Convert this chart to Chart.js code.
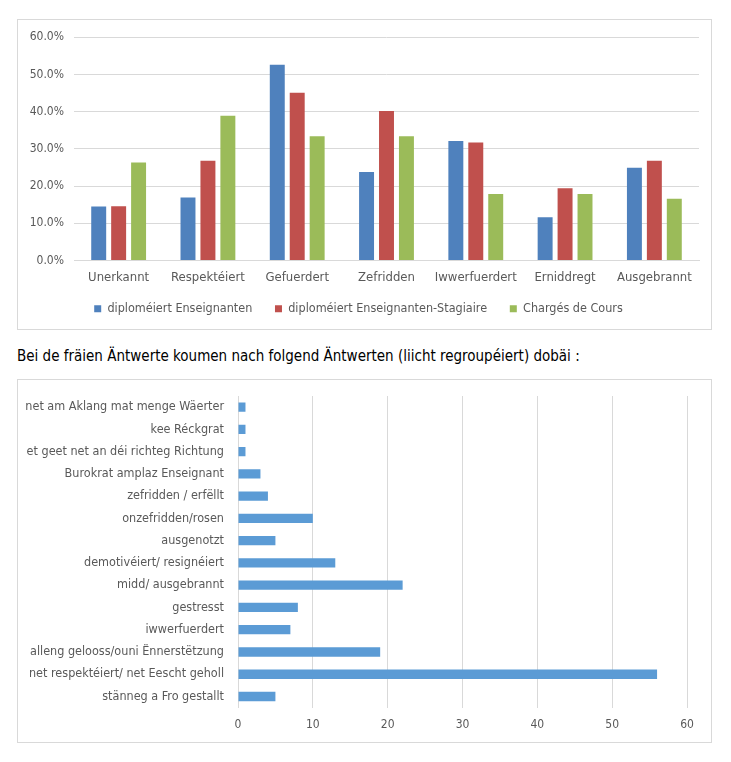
<!DOCTYPE html>
<html>
<head>
<meta charset="utf-8">
<script src="https://cdn.jsdelivr.net/npm/chart.js@4"></script>
<style>
  body { margin: 0; background: #fff; }
  .box { position: absolute; border: 1px solid #d9d9d9; background: #fff; }
  #topBox { left: 17px; top: 19px; width: 693px; height: 309px; }
  #botBox { left: 17px; top: 379px; width: 693px; height: 362px; }
  #caption { position: absolute; left: 17px; top: 347px; font: 15px "DejaVu Sans Condensed", Roboto, sans-serif; color: #000; white-space: nowrap; }
</style>
</head>
<body>
<div class="box" id="topBox"><canvas id="topChart" width="693" height="309"></canvas></div>
<div id="caption">Bei de fräien Äntwerte koumen nach folgend Äntwerten (liicht regroupéiert) dobäi :</div>
<div class="box" id="botBox"><canvas id="botChart" width="693" height="362"></canvas></div>
<script>
// top chart data (share, 0..1)
let groups = ['Unerkannt', 'Respektéiert', 'Gefuerdert', 'Zefridden', 'Iwwerfuerdert', 'Erniddregt', 'Ausgebrannt'];
let enseignanten = [0.145, 0.169, 0.526, 0.238, 0.321, 0.116, 0.249];
let stagiaires = [0.146, 0.268, 0.451, 0.402, 0.317, 0.194, 0.268];
let chargesCours = [0.263, 0.389, 0.334, 0.334, 0.179, 0.179, 0.166];
let seriesNames = ['diploméiert Enseignanten', 'diploméiert Enseignanten-Stagiaire', 'Chargés de Cours'];

// bottom chart data (counts)
let answers = ['net am Aklang mat menge Wäerter', 'kee Réckgrat', 'et geet net an déi richteg Richtung',
  'Burokrat amplaz Enseignant', 'zefridden / erfëllt', 'onzefridden/rosen', 'ausgenotzt',
  'demotivéiert/ resignéiert', 'midd/ ausgebrannt', 'gestresst', 'iwwerfuerdert',
  'alleng gelooss/ouni Ënnerstëtzung', 'net respektéiert/ net Eescht geholl', 'stänneg a Fro gestallt'];
let answerCounts = [1, 1, 1, 3, 4, 10, 5, 13, 22, 8, 7, 19, 56, 5];

const fontFam = '"DejaVu Sans Condensed", Roboto, sans-serif';
const grey = '#595959';
const gridCol = '#d9d9d9';

Chart.defaults.font.family = fontFam;
Chart.defaults.color = grey;

var topChart = new Chart(document.getElementById('topChart'), {
  type: 'bar',
  data: {
    labels: groups,
    datasets: [
      { label: seriesNames[0], data: enseignanten, backgroundColor: '#4F81BD' },
      { label: seriesNames[1], data: stagiaires, backgroundColor: '#C0504D' },
      { label: seriesNames[2], data: chargesCours, backgroundColor: '#9BBB59' }
    ]
  },
  options: {
    responsive: false,
    animation: false,
    layout: { padding: { left: 0, right: 12, top: 12, bottom: 4 } },
    datasets: { bar: { categoryPercentage: 0.67, barPercentage: 0.75 } },
    plugins: {
      legend: {
        position: 'bottom',
        labels: {
          boxWidth: 7, boxHeight: 7, font: { size: 12.5 }, color: grey, padding: 12,
          // wider gap between items than between rows
          generateLabels: function(chart) {
            let items = Chart.defaults.plugins.legend.labels.generateLabels(chart);
            items.forEach(function(it, i) { if (i < items.length - 1) it.text += '   '; });
            return items;
          }
        }
      },
      tooltip: { enabled: false }
    },
    scales: {
      x: {
        afterFit: function(axis) { axis.height = 30; },
        grid: { display: false },
        border: { display: true, color: gridCol },
        ticks: { font: { size: 13 }, color: grey, padding: 1, maxRotation: 0, autoSkip: false }
      },
      y: {
        min: 0, max: 0.6,
        afterFit: function(axis) { axis.width = 56; },
        grid: { color: gridCol, drawTicks: false },
        border: { display: false },
        ticks: {
          stepSize: 0.1, font: { size: 12 }, color: grey, padding: 10,
          callback: function(v) { return (v * 100).toFixed(1) + '%'; }
        }
      }
    }
  }
});

var botChart = new Chart(document.getElementById('botChart'), {
  type: 'bar',
  data: {
    labels: answers,
    datasets: [{ data: answerCounts, backgroundColor: '#5B9BD5' }]
  },
  options: {
    indexAxis: 'y',
    responsive: false,
    animation: false,
    layout: { padding: { left: 0, right: 24, top: 16, bottom: 0 } },
    datasets: { bar: { categoryPercentage: 1, barPercentage: 0.42 } },
    plugins: { legend: { display: false }, tooltip: { enabled: false } },
    scales: {
      x: {
        min: 0, max: 60,
        grid: { color: gridCol, drawTicks: false },
        border: { display: false },
        ticks: { stepSize: 10, font: { size: 12 }, color: grey, padding: 10 }
      },
      y: {
        afterFit: function(axis) { axis.width = 220; },
        grid: { display: false },
        border: { display: false },
        ticks: { font: { size: 12.5 }, color: grey, padding: 6, autoSkip: false }
      }
    }
  }
});
</script>
</body>
</html>
